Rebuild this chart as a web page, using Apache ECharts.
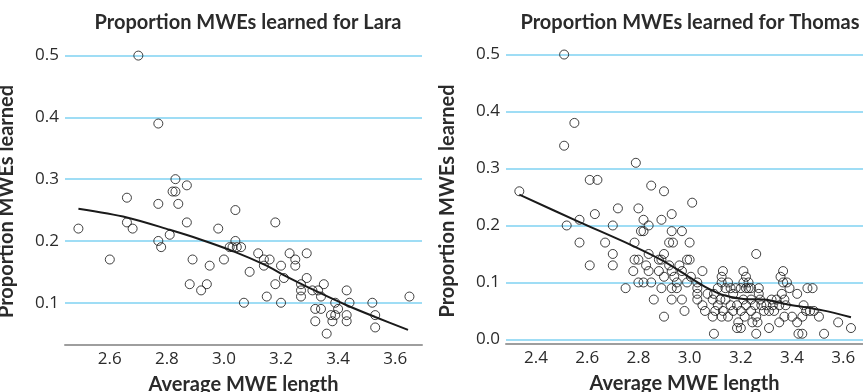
<!DOCTYPE html>
<html>
<head>
<meta charset="utf-8">
<script src="https://cdn.jsdelivr.net/npm/echarts@6/dist/echarts.min.js"></script>
<style>
  html, body { margin: 0; padding: 0; background: #fff; }
  #chart { width: 863px; height: 392px; }
</style>
</head>
<body>
<div id="chart"></div>
<script>
// Lara: [avg MWE length, proportion learned]
var laraPoints = [
  [2.49, 0.22], [2.60, 0.17], [2.66, 0.27], [2.66, 0.23], [2.68, 0.22],
  [2.70, 0.50], [2.77, 0.39], [2.77, 0.26], [2.77, 0.20], [2.78, 0.19],
  [2.81, 0.21], [2.82, 0.28], [2.83, 0.28], [2.83, 0.30], [2.84, 0.26],
  [2.87, 0.29], [2.87, 0.23], [2.88, 0.13], [2.89, 0.17], [2.92, 0.12],
  [2.94, 0.13], [2.95, 0.16], [2.98, 0.22], [3.00, 0.17], [3.02, 0.19],
  [3.03, 0.19], [3.04, 0.25], [3.04, 0.20], [3.045, 0.19], [3.06, 0.19],
  [3.07, 0.10], [3.09, 0.15], [3.12, 0.18], [3.14, 0.17], [3.14, 0.16],
  [3.15, 0.11], [3.16, 0.17], [3.18, 0.23], [3.18, 0.13], [3.20, 0.16],
  [3.20, 0.10], [3.21, 0.14], [3.23, 0.18], [3.25, 0.17], [3.25, 0.16],
  [3.27, 0.13], [3.27, 0.12], [3.27, 0.11], [3.29, 0.18], [3.29, 0.14],
  [3.31, 0.12], [3.32, 0.09], [3.32, 0.07], [3.33, 0.12], [3.34, 0.11],
  [3.34, 0.09], [3.35, 0.13], [3.36, 0.05], [3.375, 0.08], [3.38, 0.07],
  [3.39, 0.08], [3.39, 0.10], [3.40, 0.09], [3.43, 0.12], [3.43, 0.08],
  [3.43, 0.07], [3.44, 0.10], [3.52, 0.10], [3.53, 0.08], [3.53, 0.06],
  [3.65, 0.11]
];
var laraTrend = [
  [2.49, 0.252], [2.66, 0.238], [2.81, 0.218], [2.92, 0.202], [3.04, 0.182],
  [3.14, 0.162], [3.23, 0.140], [3.34, 0.115], [3.43, 0.096], [3.53, 0.077],
  [3.645, 0.056]
];

// Thomas: [avg MWE length, proportion learned]
var thomasPoints = [
  [2.51, 0.50], [2.55, 0.38], [2.51, 0.34], [2.79, 0.31], [2.61, 0.28],
  [2.64, 0.28], [2.85, 0.27], [2.90, 0.26], [2.335, 0.26], [2.52, 0.20],
  [2.57, 0.21], [2.57, 0.17], [2.63, 0.22], [2.61, 0.13], [2.67, 0.17],
  [2.70, 0.15], [2.70, 0.20], [2.70, 0.13], [2.72, 0.23], [2.75, 0.09],
  [2.78, 0.12], [2.785, 0.17], [2.785, 0.14], [2.80, 0.23], [2.80, 0.10],
  [2.80, 0.14], [2.81, 0.19], [2.82, 0.21], [2.82, 0.19], [2.82, 0.10],
  [2.83, 0.13], [2.84, 0.15], [2.84, 0.20], [2.84, 0.12], [2.85, 0.10],
  [2.86, 0.07], [2.88, 0.14], [2.88, 0.12], [2.89, 0.21], [2.89, 0.14],
  [2.89, 0.09], [2.90, 0.15], [2.90, 0.11], [2.90, 0.04], [2.92, 0.17],
  [2.92, 0.13], [2.93, 0.12], [2.93, 0.19], [2.93, 0.22], [2.935, 0.17],
  [2.93, 0.09], [2.93, 0.07], [2.94, 0.11], [2.95, 0.10], [2.95, 0.09],
  [2.96, 0.13], [2.97, 0.19], [2.97, 0.12], [2.97, 0.07], [2.98, 0.05],
  [2.99, 0.14], [2.99, 0.10], [3.00, 0.14], [3.00, 0.17], [3.005, 0.11],
  [3.01, 0.24], [3.03, 0.10], [3.03, 0.09], [3.03, 0.08], [3.03, 0.07],
  [3.05, 0.12], [3.05, 0.06], [3.06, 0.05], [3.07, 0.08], [3.09, 0.07],
  [3.09, 0.04], [3.095, 0.08], [3.095, 0.01], [3.10, 0.05], [3.11, 0.06],
  [3.11, 0.09], [3.12, 0.07], [3.125, 0.10], [3.125, 0.11], [3.125, 0.04],
  [3.13, 0.12], [3.13, 0.05], [3.14, 0.09], [3.14, 0.07], [3.15, 0.10],
  [3.15, 0.04], [3.16, 0.06], [3.16, 0.09], [3.17, 0.08], [3.17, 0.05],
  [3.18, 0.09], [3.185, 0.02], [3.185, 0.06], [3.19, 0.03], [3.20, 0.05],
  [3.20, 0.02], [3.20, 0.09], [3.21, 0.12], [3.21, 0.10], [3.21, 0.07],
  [3.215, 0.04], [3.22, 0.09], [3.22, 0.11], [3.22, 0.06], [3.23, 0.10],
  [3.23, 0.09], [3.24, 0.05], [3.24, 0.09], [3.24, 0.07], [3.245, 0.03],
  [3.255, 0.06], [3.26, 0.15], [3.26, 0.04], [3.26, 0.01], [3.265, 0.03],
  [3.27, 0.09], [3.27, 0.08], [3.275, 0.07], [3.28, 0.06], [3.29, 0.05],
  [3.30, 0.06], [3.31, 0.02], [3.31, 0.05], [3.32, 0.07], [3.325, 0.06],
  [3.33, 0.05], [3.34, 0.07], [3.35, 0.06], [3.35, 0.03], [3.355, 0.11],
  [3.36, 0.08], [3.365, 0.12], [3.365, 0.10], [3.37, 0.04], [3.37, 0.07],
  [3.375, 0.06], [3.38, 0.10], [3.39, 0.09], [3.40, 0.04], [3.42, 0.08],
  [3.42, 0.03], [3.425, 0.01], [3.44, 0.01], [3.44, 0.04], [3.445, 0.06],
  [3.455, 0.05], [3.46, 0.09], [3.47, 0.05], [3.48, 0.09], [3.485, 0.05],
  [3.505, 0.04], [3.525, 0.01], [3.58, 0.03], [3.63, 0.02]
];
var thomasTrend = [
  [2.335, 0.254], [2.57, 0.206], [2.77, 0.166], [2.90, 0.137], [3.00, 0.109],
  [3.07, 0.090], [3.13, 0.078], [3.21, 0.071], [3.29, 0.070], [3.39, 0.061],
  [3.52, 0.051], [3.63, 0.039]
];

var xTicksLara = [2.6, 2.8, 3.0, 3.2, 3.4, 3.6];
var xTicksThomas = [2.4, 2.6, 2.8, 3.0, 3.2, 3.4, 3.6];
var yTicksLara = [0.1, 0.2, 0.3, 0.4, 0.5];
var yTicksThomas = [0.0, 0.1, 0.2, 0.3, 0.4, 0.5];

var chart = echarts.init(document.getElementById('chart'));

var txt = '#2b2b2b';
var gridBlue = '#7fd2f2';
var boldFont = 'Lato';

function xAxis(idx, min, max, ticks) {
  return {
    type: 'value', gridIndex: idx, min: min, max: max,
    name: 'Average MWE length', nameLocation: 'middle', nameGap: 30,
    nameTextStyle: { fontFamily: boldFont, fontWeight: 'bold', fontSize: 20, color: txt },
    axisLine: { show: true, onZero: false, lineStyle: { color: '#9e9e9e', width: 2 } },
    axisTick: { show: false, customValues: ticks },
    axisLabel: { customValues: ticks, color: txt, fontFamily: 'Open Sans', fontSize: 17, margin: 6,
      formatter: function (v) { return v.toFixed(1); } },
    splitLine: { show: false }
  };
}

function yAxis(idx, min, max, ticks, gap) {
  return {
    type: 'value', gridIndex: idx, min: min, max: max,
    name: 'Proportion MWEs learned', nameLocation: 'middle', nameGap: gap,
    nameTextStyle: { fontFamily: boldFont, fontWeight: 'bold', fontSize: 20, color: txt,
      padding: [0, 16, 0, 0] },
    axisLine: { show: false },
    axisTick: { show: false, customValues: ticks },
    axisLabel: { customValues: ticks, color: txt, fontFamily: 'Open Sans', fontSize: 17, margin: 6,
      formatter: function (v) { return v.toFixed(1); } },
    splitLine: { show: true, lineStyle: { color: gridBlue, width: 1.5 } }
  };
}

var dot = { color: 'rgba(255,255,255,0)', borderColor: '#111', borderWidth: 1 };

chart.setOption({
  animation: false,
  title: [
    { text: 'Proportion MWEs learned for Lara', left: 243, top: 8, textAlign: 'center',
      textStyle: { fontFamily: boldFont, fontWeight: 'bold', fontSize: 20, color: txt } },
    { text: 'Proportion MWEs learned for Thomas', left: 685, top: 8, textAlign: 'center',
      textStyle: { fontFamily: boldFont, fontWeight: 'bold', fontSize: 20, color: txt } }
  ],
  grid: [
    { left: 65, right: 441, top: 42, bottom: 47, outerBoundsMode: 'none' },
    { left: 506, right: 0, top: 42, bottom: 48, outerBoundsMode: 'none' }
  ],
  xAxis: [
    xAxis(0, 2.443, 3.694, xTicksLara),
    xAxis(1, 2.283, 3.677, xTicksThomas)
  ],
  yAxis: [
    yAxis(0, 0.0316, 0.522, yTicksLara, 48),
    yAxis(1, -0.008, 0.522, yTicksThomas, 48)
  ],
  series: [
    { type: 'scatter', xAxisIndex: 0, yAxisIndex: 0, data: laraPoints,
      symbol: 'circle', symbolSize: 9, itemStyle: dot },
    { type: 'line', xAxisIndex: 0, yAxisIndex: 0, data: laraTrend, smooth: 0.3,
      showSymbol: false, lineStyle: { color: '#1a1a1a', width: 2 } },
    { type: 'scatter', xAxisIndex: 1, yAxisIndex: 1, data: thomasPoints,
      symbol: 'circle', symbolSize: 9, itemStyle: dot },
    { type: 'line', xAxisIndex: 1, yAxisIndex: 1, data: thomasTrend, smooth: 0.3,
      showSymbol: false, lineStyle: { color: '#1a1a1a', width: 2 } }
  ]
});
</script>
</body>
</html>
